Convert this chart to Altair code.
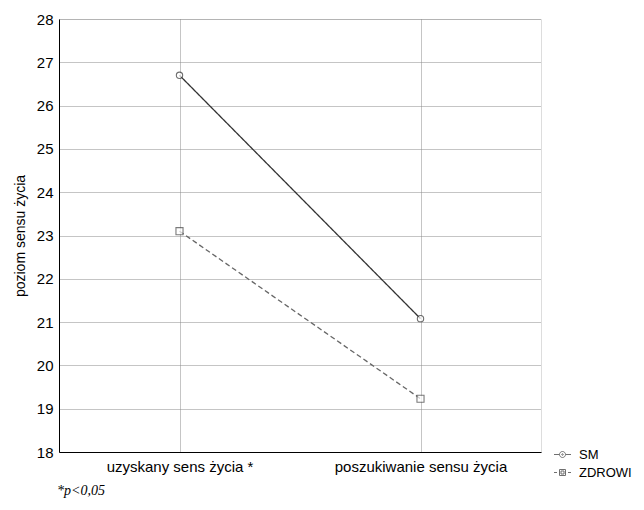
import altair as alt
import pandas as pd

categories = ["uzyskany sens życia *", "poszukiwanie sensu życia"]
groups = ["SM", "ZDROWI"]
sm_values = [26.7, 21.08]
zdrowi_values = [23.1, 19.23]
y_ticks = [18, 19, 20, 21, 22, 23, 24, 25, 26, 27, 28]
footnote = "*p<0,05"

rows = []
for c, v in zip(categories, sm_values):
    rows.append({"kat": c, "grupa": "SM", "wartosc": v})
for c, v in zip(categories, zdrowi_values):
    rows.append({"kat": c, "grupa": "ZDROWI", "wartosc": v})
df = pd.DataFrame(rows)

FONT = "Liberation Sans"
GRID = "#8a8a8a"
x_enc = alt.X("kat:N", sort=categories, title=None,
              scale=alt.Scale(type="point", padding=0.5),
              axis=alt.Axis(labelAngle=0, labelFontSize=15, labelPadding=7,
                            ticks=False, domainColor="black",
                            grid=True, gridColor=GRID, gridDash=[1, 1],
                            labelColor="black", labelFont=FONT))
y_enc = alt.Y("wartosc:Q", title="poziom sensu życia",
              scale=alt.Scale(domain=[18, 28], nice=False, zero=False),
              axis=alt.Axis(values=y_ticks, labelFontSize=15, labelPadding=6,
                            ticks=False, domainColor="black",
                            grid=True, gridColor=GRID, gridDash=[1, 1],
                            titleFontSize=14, titleFontWeight="normal",
                            titleFont=FONT, labelFont=FONT, titlePadding=9,
                            labelColor="black", titleColor="black"))

lines = alt.Chart(df).mark_line(strokeWidth=1.3, color="#333").encode(
    x=x_enc, y=y_enc,
    strokeDash=alt.StrokeDash("grupa:N",
                              scale=alt.Scale(domain=groups, range=[[1, 0], [5, 3]]),
                              legend=None),
    color=alt.Color("grupa:N", scale=alt.Scale(domain=groups, range=["#333", "#666"]),
                    legend=None),
)

pts_sm = alt.Chart(df[df.grupa == "SM"]).mark_point(
    shape="circle", filled=True, fill="white", stroke="#333", strokeWidth=1.1, size=40
).encode(x=x_enc, y=y_enc)
pts_zd = alt.Chart(df[df.grupa == "ZDROWI"]).mark_point(
    shape="square", filled=True, fill="white", stroke="#444", strokeWidth=1.1, size=50
).encode(x=x_enc, y=y_enc)

sm_path = ("M-1.7,0H-0.6M0.6,0H1.7M-0.6,0A0.6,0.6,0,1,1,0.6,0A0.6,0.6,0,1,1,-0.6,0"
           "M-0.15,0A0.15,0.15,0,1,1,0.15,0A0.15,0.15,0,1,1,-0.15,0")
zd_path = "M-1.7,0H-1.1M-0.6,-0.6H0.6V0.6H-0.6ZM-0.3,-0.3H0.3V0.3H-0.3ZM1.1,0H1.7"

legend_layer = alt.Chart(df).mark_point(filled=False, clip=True, color="#333",
                                        strokeWidth=1, size=100).encode(
    x=x_enc, y=y_enc,
    yOffset=alt.value(3000),
    shape=alt.Shape("grupa:N", scale=alt.Scale(domain=groups, range=[sm_path, zd_path]),
                    legend=alt.Legend(title=None, orient="none", legendX=497, legendY=429,
                                      labelFontSize=13, labelFont=FONT, labelColor="black",
                                      symbolStrokeWidth=1, labelOffset=10, rowPadding=4,
                                      symbolSize=100)),
)

note = alt.Chart(pd.DataFrame({"t": [footnote]})).mark_text(
    align="left", baseline="middle", font="Liberation Serif", fontStyle="italic",
    fontSize=14, color="black"
).encode(text="t:N", x=alt.value(-2), y=alt.value(472))

chart = alt.layer(lines, pts_sm, pts_zd, legend_layer, note).resolve_scale(
    shape="independent"
).properties(
    width=482, height=433,
    autosize=alt.AutoSizeParams(type="none"),
    padding={"left": 51, "top": 11, "right": 95, "bottom": 50},
).configure_view(stroke="black", strokeWidth=1).configure(background="white")

chart.save("out.html", embed_options={"renderer": "svg", "actions": False})
